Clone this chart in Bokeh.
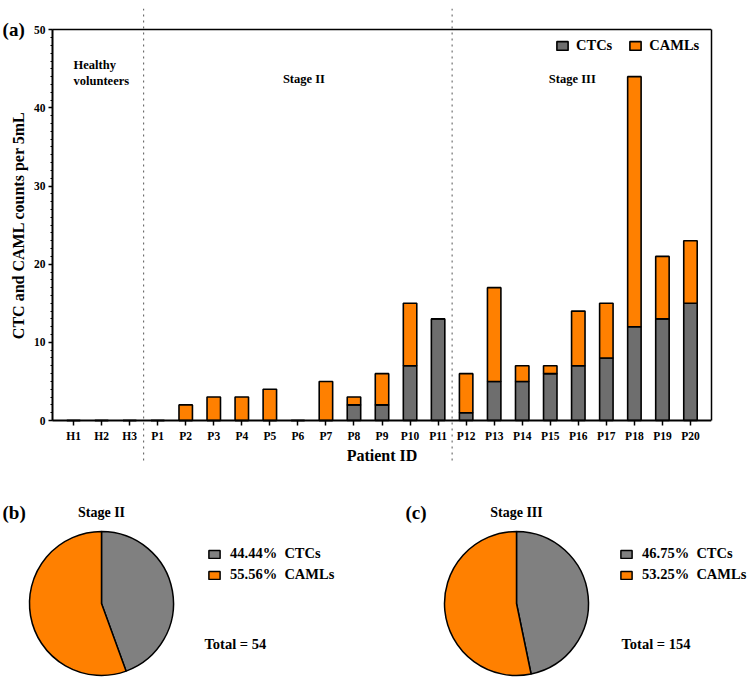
import math
from bokeh.plotting import figure
from bokeh.models import (ColumnDataSource, Range1d, FixedTicker, SingleIntervalTicker,
                          LinearAxis, Span, Label, Legend, LegendItem)
from bokeh.layouts import column, row
from bokeh.embed import file_html
from bokeh.resources import INLINE
from bokeh.core.properties import value

# ---------------- data ----------------
healthy = ["H1", "H2", "H3"]
stage2 = ["P1", "P2", "P3", "P4", "P5", "P6", "P7", "P8", "P9", "P10", "P11"]
stage3 = ["P12", "P13", "P14", "P15", "P16", "P17", "P18", "P19", "P20"]
patients = healthy + stage2 + stage3
ctc_counts = [0, 0, 0,
              0, 0, 0, 0, 0, 0, 0, 2, 2, 7, 13,
              1, 5, 5, 6, 7, 8, 12, 13, 15]
caml_counts = [0, 0, 0,
               0, 2, 3, 3, 4, 0, 5, 1, 4, 8, 0,
               5, 12, 2, 1, 7, 7, 32, 8, 8]
series_names = ["CTCs", "CAMLs"]
group_titles = ["Healthy\nvolunteers", "Stage II", "Stage III"]
y_min, y_max = 0, 50

FONT = "Liberation Serif"
GRAY_BAR = "#6e6e6e"
GRAY_PIE = "#808080"
ORANGE = "#ff8000"

n = len(patients)
xs = list(range(n))
source = ColumnDataSource(dict(x=xs, ctc=ctc_counts, caml=caml_counts))

# ---------------- bar chart ----------------
# The frame is wider/taller than the 0..50 value band so that the dotted
# stage separators and the panel tag can sit outside the axes, as in the original.
x_lo, x_hi = -0.75, n - 0.25
p = figure(width=752, height=470,
           x_range=Range1d(-2.605, x_hi), y_range=Range1d(-5.5, 52.72),
           output_backend="svg", toolbar_location=None,
           min_border_left=0, min_border_right=41,
           min_border_top=8, min_border_bottom=7)
p.xgrid.visible = False
p.ygrid.visible = False
p.outline_line_color = None
p.background_fill_color = "white"

p.vbar_stack(["ctc", "caml"], x="x", width=0.48, source=source,
             fill_color=[GRAY_BAR, ORANGE], line_color="black", line_width=1.6,
             legend_label=series_names)

# axes
xax = p.xaxis[0]
yax = p.yaxis[0]
xax.fixed_location = y_min
xax.bounds = (x_lo, x_hi)
xax.ticker = FixedTicker(ticks=xs, minor_ticks=[])
xax.major_label_overrides = {i: name for i, name in enumerate(patients)}
xax.axis_label = "Patient ID"
yax.fixed_location = x_lo
yax.ticker = SingleIntervalTicker(interval=10, num_minor_ticks=10)
yax.bounds = (y_min, y_max)
for ax in (xax, yax):
    ax.axis_line_width = 2
    ax.axis_line_color = "black"
    ax.major_tick_line_color = "black"
    ax.major_tick_line_width = 1.5
    ax.minor_tick_line_color = "black"
    ax.major_tick_in = 0
    ax.minor_tick_in = 0
    ax.major_label_text_font = FONT
    ax.major_label_text_font_style = "bold"
    ax.major_label_text_font_size = "11.5px"
    ax.major_label_text_color = "black"
    ax.axis_label_text_font = FONT
    ax.axis_label_text_font_style = "bold"
    ax.axis_label_text_font_size = "16px"
    ax.axis_label_text_color = "black"
xax.major_tick_out = 5
xax.major_label_standoff = 4
xax.axis_label_standoff = 2
yax.major_tick_out = 4
yax.minor_tick_out = 2
yax.major_label_standoff = 3

# y-axis title, centred on the 0..50 value band
p.add_layout(Label(x=-1.96, y=(y_min + y_max) / 2, text="CTC and CAML counts per 5mL",
                   angle=math.pi / 2, text_align="center", text_baseline="middle",
                   text_font=FONT, text_font_style="bold", text_font_size="16px",
                   text_color="black"))

# top and right frame lines limited to the value band
p.add_layout(LinearAxis(fixed_location=y_max, bounds=(x_lo, x_hi),
                        ticker=FixedTicker(ticks=[], minor_ticks=[]),
                        axis_line_width=1.5, axis_line_color="black",
                        major_tick_out=0, minor_tick_out=0), "above")
p.add_layout(LinearAxis(bounds=(y_min, y_max), ticker=FixedTicker(ticks=[], minor_ticks=[]),
                        axis_line_width=1.5, axis_line_color="black",
                        major_tick_out=0, minor_tick_out=0), "right")

# stage separators
bounds = [len(healthy) - 0.5, len(healthy) + len(stage2) - 0.5]
for b in bounds:
    p.add_layout(Span(location=b, dimension="height", line_dash="dotted",
                      line_width=1, line_color="#555555"))

# group titles
p.text(x=[0], y=[44.5], text=[group_titles[0]], text_font=value(FONT),
       text_font_style="bold", text_font_size="12.5px", text_align="left",
       text_baseline="middle", text_color="black", text_line_height=1.15)
g2_center = len(healthy) + (len(stage2) - 1) / 2
g3_center = len(healthy) + len(stage2) + (len(stage3) - 1) / 2
p.text(x=[g2_center, g3_center], y=[43.7, 43.7], text=group_titles[1:],
       x_offset=[6, -6],
       text_font=value(FONT), text_font_style="bold", text_font_size="12.5px",
       text_align="center", text_baseline="middle", text_color="black")

# legend
lg = p.legend[0]
lg.orientation = "horizontal"
lg.location = (555, 409)
lg.label_text_font = FONT
lg.label_text_font_style = "bold"
lg.label_text_font_size = "14.5px"
lg.label_text_color = "black"
lg.glyph_width = 14
lg.glyph_height = 11
lg.label_standoff = 7
lg.spacing = 16
lg.padding = 4
lg.margin = 0
lg.border_line_color = None
lg.background_fill_alpha = 0

p.add_layout(Label(x=-2.53, y=y_max, text="(a)",
                   text_font=FONT, text_font_style="bold", text_font_size="19px",
                   text_baseline="middle", text_color="black"))


# ---------------- pies ----------------
def pie_fig(title, tag, ctc_total, caml_total, cx, tag_x, legend_x, total_x):
    pf = figure(width=376, height=210, x_range=Range1d(0, 376), y_range=Range1d(0, 210),
                x_axis_location=None, y_axis_location=None, output_backend="svg",
                toolbar_location=None, min_border=0)
    pf.outline_line_color = None
    pf.xgrid.visible = False
    pf.ygrid.visible = False
    total = ctc_total + caml_total
    vals = [ctc_total, caml_total]
    starts, ends, cum = [], [], 0.0
    for v in vals:
        starts.append(math.pi / 2 - 2 * math.pi * cum / total)
        cum += v
        ends.append(math.pi / 2 - 2 * math.pi * cum / total)
    labels = [f"{100 * v / total:.2f}%\u00a0\u00a0{nm}" for v, nm in zip(vals, series_names)]
    src = ColumnDataSource(dict(start=starts, end=ends, color=[GRAY_PIE, ORANGE], label=labels))
    r = pf.wedge(x=cx, y=77, radius=72, start_angle="start", end_angle="end",
                 direction="clock", fill_color="color", line_color="black",
                 line_width=1.5, source=src)
    leg = Legend(items=[LegendItem(label=labels[i], renderers=[r], index=i) for i in range(2)],
                 location=(legend_x, 97), orientation="vertical",
                 label_text_font=FONT, label_text_font_style="bold",
                 label_text_font_size="14.5px", label_text_color="black",
                 glyph_width=14, glyph_height=10,
                 label_standoff=9, spacing=4, padding=0, margin=0,
                 border_line_color=None, background_fill_alpha=0)
    pf.add_layout(leg)
    pf.add_layout(Label(x=cx, y=168, text=title, text_align="center", text_baseline="middle",
                        text_font=FONT, text_font_style="bold", text_font_size="14px",
                        text_color="black"))
    pf.add_layout(Label(x=tag_x, y=168, text=tag, text_baseline="middle",
                        text_font=FONT, text_font_style="bold", text_font_size="19px",
                        text_color="black"))
    pf.add_layout(Label(x=total_x, y=37, text=f"Total = {total}", text_baseline="middle",
                        text_font=FONT, text_font_style="bold", text_font_size="14.5px",
                        text_color="black"))
    return pf


i2 = slice(len(healthy), len(healthy) + len(stage2))
i3 = slice(len(healthy) + len(stage2), n)
pb = pie_fig("Stage II", "(b)", sum(ctc_counts[i2]), sum(caml_counts[i2]), 101, 2, 207, 204)
pc = pie_fig("Stage III", "(c)", sum(ctc_counts[i3]), sum(caml_counts[i3]), 140, 29, 243, 245)

layout = column(p, row(pb, pc))
open("out.html", "w").write(file_html(layout, INLINE))
